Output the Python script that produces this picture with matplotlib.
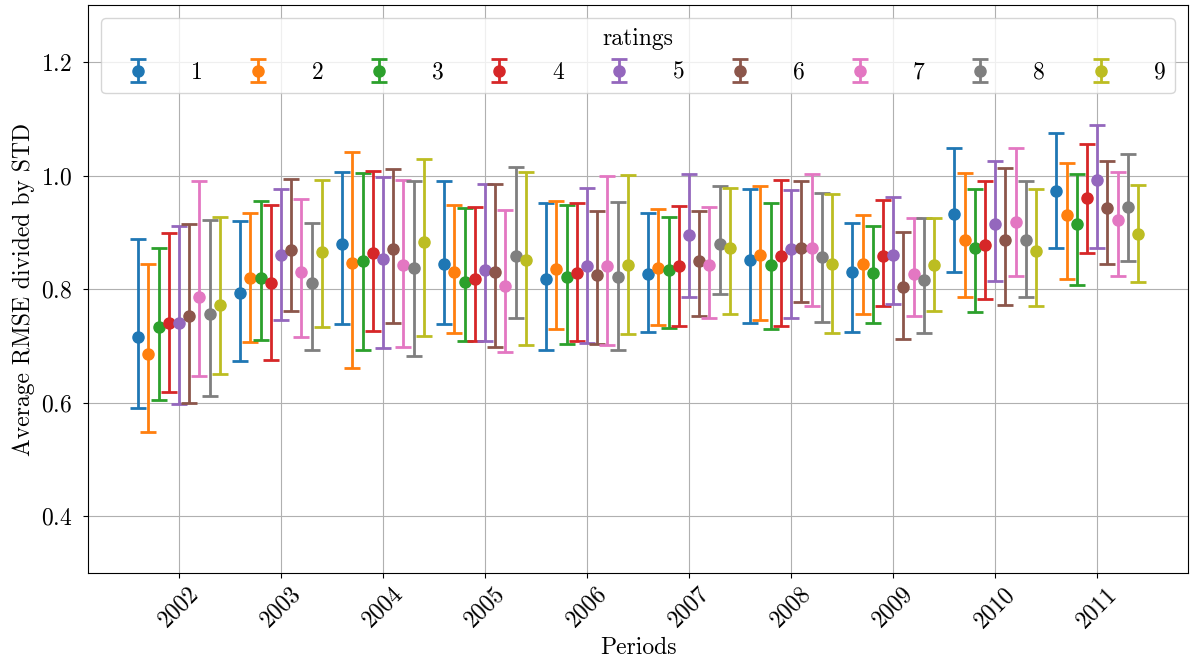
import numpy as np
import matplotlib
matplotlib.use('Agg')
import matplotlib.pyplot as plt

plt.rcParams['font.family'] = 'serif'
plt.rcParams['font.serif'] = ['cmr10']
plt.rcParams['mathtext.fontset'] = 'cm'
plt.rcParams['axes.unicode_minus'] = False
plt.rcParams['axes.formatter.use_mathtext'] = True

periods = ['2002', '2003', '2004', '2005', '2006', '2007', '2008', '2009', '2010', '2011']
ratings = ['1', '2', '3', '4', '5', '6', '7', '8', '9']

# mean per (rating, period)
mean = {
    '1': [0.715, 0.793, 0.880, 0.844, 0.818, 0.826, 0.851, 0.831, 0.933, 0.973],
    '2': [0.685, 0.820, 0.846, 0.830, 0.835, 0.837, 0.860, 0.845, 0.887, 0.931],
    '3': [0.734, 0.819, 0.850, 0.812, 0.821, 0.834, 0.842, 0.829, 0.873, 0.914],
    '4': [0.740, 0.811, 0.863, 0.818, 0.829, 0.841, 0.858, 0.858, 0.878, 0.961],
    '5': [0.740, 0.860, 0.853, 0.833, 0.840, 0.895, 0.870, 0.860, 0.914, 0.992],
    '6': [0.753, 0.869, 0.871, 0.831, 0.825, 0.849, 0.873, 0.804, 0.887, 0.943],
    '7': [0.787, 0.830, 0.843, 0.805, 0.840, 0.843, 0.873, 0.826, 0.918, 0.922],
    '8': [0.756, 0.811, 0.837, 0.859, 0.821, 0.880, 0.856, 0.817, 0.887, 0.944],
    '9': [0.773, 0.866, 0.883, 0.851, 0.843, 0.873, 0.844, 0.842, 0.868, 0.898],
}
upper = {
    '1': [0.888, 0.920, 1.006, 0.990, 0.952, 0.935, 0.976, 0.917, 1.049, 1.075],
    '2': [0.844, 0.935, 1.042, 0.948, 0.955, 0.942, 0.981, 0.931, 1.004, 1.023],
    '3': [0.873, 0.955, 1.004, 0.943, 0.948, 0.927, 0.952, 0.911, 0.977, 1.002],
    '4': [0.899, 0.949, 1.008, 0.944, 0.951, 0.947, 0.993, 0.957, 0.991, 1.056],
    '5': [0.911, 0.977, 0.997, 0.985, 0.978, 1.002, 0.975, 0.962, 1.026, 1.089],
    '6': [0.915, 0.994, 1.011, 0.986, 0.938, 0.937, 0.990, 0.900, 1.014, 1.026],
    '7': [0.991, 0.958, 0.993, 0.940, 1.000, 0.945, 1.003, 0.925, 1.048, 1.006],
    '8': [0.922, 0.917, 0.991, 1.015, 0.953, 0.982, 0.969, 0.925, 0.991, 1.038],
    '9': [0.927, 0.993, 1.029, 1.007, 1.001, 0.979, 0.967, 0.925, 0.977, 0.984],
}
lower = {
    '1': [0.591, 0.674, 0.739, 0.738, 0.692, 0.725, 0.741, 0.725, 0.831, 0.873],
    '2': [0.548, 0.707, 0.662, 0.722, 0.730, 0.737, 0.746, 0.757, 0.786, 0.818],
    '3': [0.604, 0.710, 0.692, 0.708, 0.703, 0.732, 0.730, 0.741, 0.760, 0.808],
    '4': [0.619, 0.675, 0.727, 0.709, 0.709, 0.736, 0.736, 0.770, 0.783, 0.864],
    '5': [0.598, 0.746, 0.697, 0.708, 0.706, 0.786, 0.749, 0.774, 0.815, 0.873],
    '6': [0.599, 0.762, 0.740, 0.699, 0.703, 0.752, 0.777, 0.713, 0.773, 0.844],
    '7': [0.647, 0.716, 0.699, 0.690, 0.702, 0.750, 0.771, 0.753, 0.823, 0.824],
    '8': [0.611, 0.692, 0.683, 0.750, 0.692, 0.792, 0.743, 0.723, 0.787, 0.850],
    '9': [0.650, 0.733, 0.718, 0.702, 0.721, 0.757, 0.722, 0.762, 0.770, 0.813],
}

fig, ax = plt.subplots(figsize=(11.92, 6.64), dpi=100)
fig.subplots_adjust(left=0.074, right=0.9966, top=0.992, bottom=0.137)

x = np.arange(len(periods))
offsets = np.linspace(-0.4, 0.4, len(ratings))
colors = plt.rcParams['axes.prop_cycle'].by_key()['color']

for i, r in enumerate(ratings):
    m = np.array(mean[r])
    err = [m - np.array(lower[r]), np.array(upper[r]) - m]
    ax.errorbar(x + offsets[i], m, yerr=err, fmt='o', color=colors[i],
                markersize=8, elinewidth=2, capsize=6, capthick=2, label=r)

ax.set_ylim(0.3, 1.3)
ax.set_yticks([0.4, 0.6, 0.8, 1.0, 1.2])
ax.set_xticks(x)
ax.set_xticklabels(periods, rotation=45)
ax.tick_params(labelsize=17)
ax.tick_params(axis='y', pad=8)
ax.set_xlabel('Periods', fontsize=17)
ax.set_ylabel('Average RMSE divided by STD', fontsize=17)
ax.grid(True)
ax.set_axisbelow(True)

leg = ax.legend(title='ratings', ncol=9, loc='upper left', mode='expand',
                bbox_to_anchor=(0.0, 0.0, 1.0, 1.0), fontsize=17, title_fontsize=17,
                borderaxespad=0.55, handlelength=2.3, handletextpad=1.1)

plt.savefig('out.png', dpi=100)
